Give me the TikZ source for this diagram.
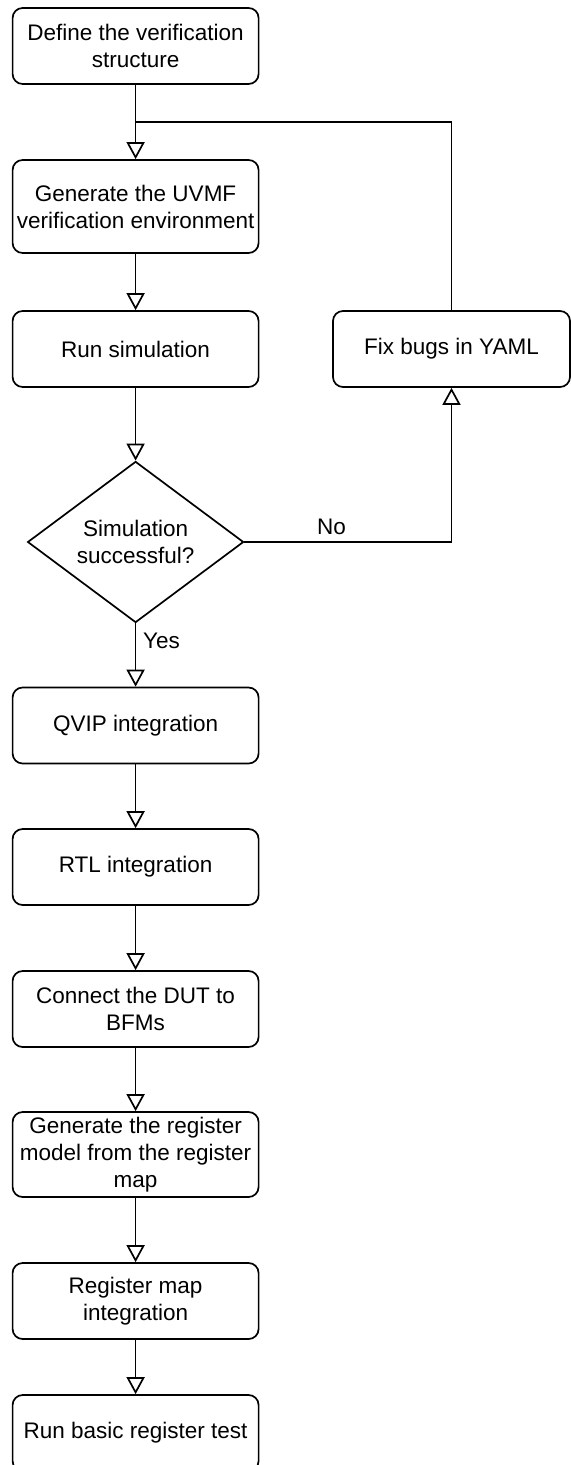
\documentclass[tikz,border=0pt]{standalone}
\usepackage{fontspec}
\setmainfont{Liberation Sans}
\usetikzlibrary{arrows.meta,shapes.geometric}

\begin{document}
\begin{tikzpicture}[x=0.5pt,y=-0.5pt,font=\fontsize{11.25}{13.5}\selectfont]
    \tikzset{procbox/.style={draw,rounded corners=5pt,line width=0.85pt,minimum width=123pt,minimum height=38pt,inner sep=1pt,align=center},
             decbox/.style={draw,diamond,line width=0.85pt,minimum width=108pt,minimum height=79.5pt,inner sep=0pt,align=center},
             flowline/.style={line width=0.85pt},
             flowarrow/.style={flowline,-{Triangle[open,width=9pt,length=8.5pt]}}}
    \useasboundingbox (0,0) rectangle (571,1465);
    % main column
    \node[procbox] (define) at (135.6,46) {Define the verification\\structure};
    \node[procbox,minimum height=46.5pt] (genenv) at (135.6,206.5) {Generate the UVMF\\verification environment};
    \node[procbox] (runsim) at (135.6,349) {Run simulation};
    \node[decbox] (simok) at (135.6,542) {Simulation\\successful?};
    \node[procbox] (qvip) at (135.6,725.5) {QVIP integration};
    \node[procbox] (rtl) at (135.6,867) {RTL integration};
    \node[procbox] (conn) at (135.6,1009) {Connect the DUT to\\BFMs};
    \node[procbox,minimum height=42.5pt] (genreg) at (135.6,1154.5) {Generate the register\\model from the register\\map};
    \node[procbox] (regmap) at (135.6,1301) {Register map\\integration};
    \node[procbox] (regtest) at (135.6,1433) {Run basic register test};
    % loop back
    \node[procbox,minimum width=118.5pt] (fixyaml) at (451.5,349) {Fix bugs in YAML};
    \coordinate (loopin) at (135.6,122);

    \draw[flowarrow] (define) -- (genenv);
    \draw[flowarrow] (genenv) -- (runsim);
    \draw[flowarrow] (runsim) -- (simok);
    \draw[flowarrow] (simok) -- node[right,pos=0.28]{Yes} (qvip);
    \draw[flowarrow] (simok.east) -| node[above,pos=0.21]{No} (fixyaml);
    \draw[flowline] (fixyaml.north) |- (loopin);
    \draw[flowarrow] (qvip) -- (rtl);
    \draw[flowarrow] (rtl) -- (conn);
    \draw[flowarrow] (conn) -- (genreg);
    \draw[flowarrow] (genreg) -- (regmap);
    \draw[flowarrow] (regmap) -- (regtest);
\end{tikzpicture}
\end{document}
